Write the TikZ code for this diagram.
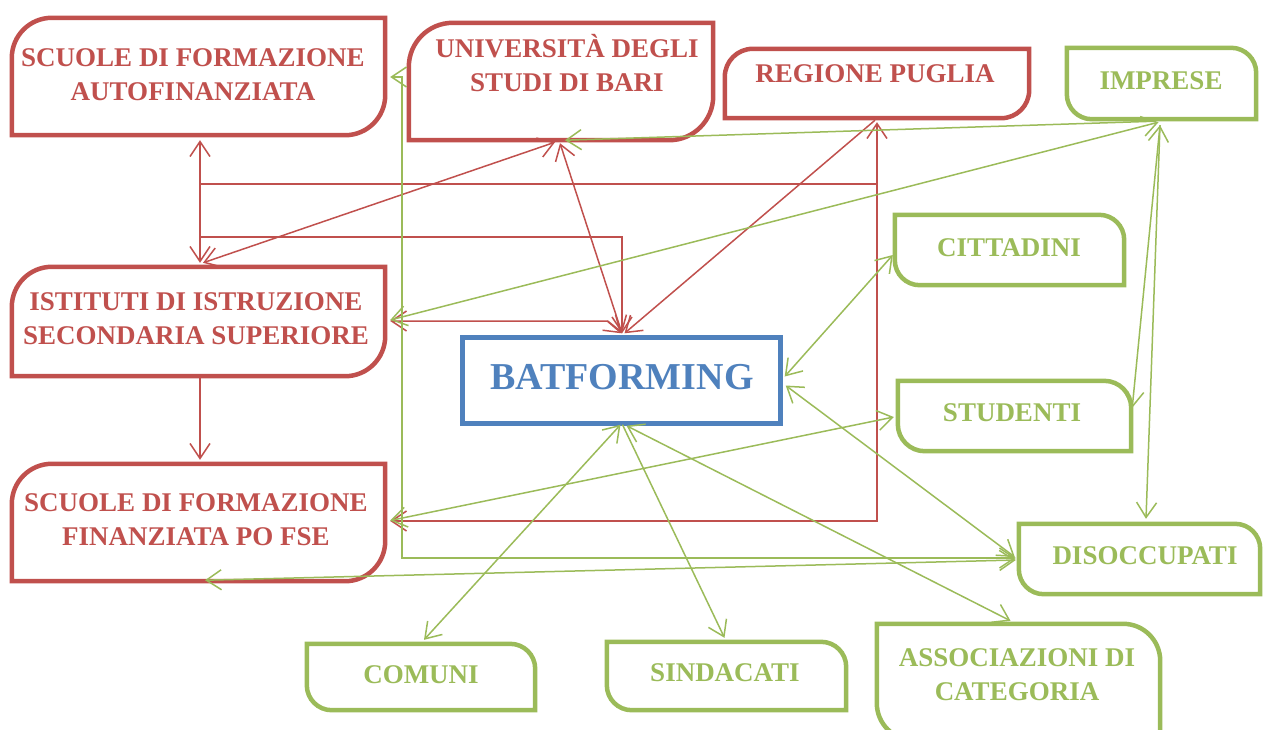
\documentclass[tikz,border=0pt]{standalone}
\usepackage{fontspec}
\setmainfont{Liberation Serif}
\usetikzlibrary{arrows.meta,calc,fit}
\definecolor{cred}{HTML}{C0504D}
\definecolor{cgreen}{HTML}{9BBB59}
\definecolor{cblue}{HTML}{4F81BD}
\newcommand\redframe[2]{\draw[redborder] ([yshift=-#2]#1.north west) arc[start angle=180,end angle=90,radius=#2] -- (#1.north east) -- ([yshift=#2]#1.south east) arc[start angle=0,end angle=-90,radius=#2] -- (#1.south west) -- cycle;}
\newcommand\greenframe[2]{\draw[greenborder] (#1.north west) -- ([xshift=-#2]#1.north east) arc[start angle=90,end angle=0,radius=#2] -- (#1.south east) -- ([xshift=#2]#1.south west) arc[start angle=270,end angle=180,radius=#2] -- cycle;}
\tikzset{
  area/.style={inner sep=0pt, draw=none},
  redborder/.style={draw=cred, line width=4.5pt, line join=miter, fill=white},
  greenborder/.style={draw=cgreen, line width=4.5pt, line join=miter, fill=white},
  blueborder/.style={draw=cblue, line width=5pt, line join=miter, fill=white},
  boxtext/.style={font=\fontsize{27}{34}\selectfont\bfseries, align=center, inner sep=0pt},
  rtext/.style={boxtext, text=cred},
  gtext/.style={boxtext, text=cgreen},
  rl/.style={draw=cred, line width=1.5pt},
  gl/.style={draw=cgreen, line width=1.5pt},
  arr/.style={-{Straight Barb[length=15pt,width=20pt]}},
  darr/.style={{Straight Barb[length=15pt,width=20pt]}-{Straight Barb[length=15pt,width=20pt]}},
}
\begin{document}
\begin{tikzpicture}[x=1pt,y=-1pt]
\useasboundingbox (0,0) rectangle (1263,729);
\clip (0,0) rectangle (1263,729);
% box areas
\node[area, fit={(12,18) (385,135)}] (af) {};
\node[area, fit={(409,23) (713,140)}] (un) {};
\node[area, fit={(725,49) (1029,118)}] (rp) {};
\node[area, fit={(1067,48) (1256,119)}] (im) {};
\node[area, fit={(895,215) (1124,285)}] (ci) {};
\node[area, fit={(12,267) (385,376)}] (is) {};
\node[area, fit={(12,464) (385,581)}] (fs) {};
\node[area, fit={(462.5,337.5) (780.5,423.5)}] (ba) {};
\node[area, fit={(898,381) (1131,451)}] (st) {};
\node[area, fit={(1019,524) (1260,594)}] (di) {};
\node[area, fit={(877,624) (1160,740)}] (as) {};
\node[area, fit={(307,644) (535,710)}] (co) {};
\node[area, fit={(607,642) (846,710)}] (si) {};
% frames
\redframe{af}{40pt}
\redframe{un}{44pt}
\redframe{rp}{28pt}
\redframe{is}{40pt}
\redframe{fs}{40pt}
\greenframe{im}{25pt}
\greenframe{ci}{25pt}
\greenframe{st}{27pt}
\greenframe{di}{25pt}
\greenframe{as}{37pt}
\greenframe{co}{25pt}
\greenframe{si}{25pt}
\draw[blueborder] (ba.north west) rectangle (ba.south east);
% texts
\node[rtext] (afT) at (193,75) {SCUOLE DI FORMAZIONE\\AUTOFINANZIATA};
\node[rtext] (unT) at (567,63) {UNIVERSITÀ DEGLI\\STUDI DI BARI};
\node[rtext] (rpT) at (875,74) {REGIONE PUGLIA};
\node[rtext] (isT) at (196,319) {ISTITUTI DI ISTRUZIONE\\SECONDARIA SUPERIORE};
\node[rtext] (fsT) at (196,520) {SCUOLE DI FORMAZIONE\\FINANZIATA PO FSE};
\node[gtext] (imT) at (1161,81) {IMPRESE};
\node[gtext] (ciT) at (1009,248) {CITTADINI};
\node[gtext] (stT) at (1012,413) {STUDENTI};
\node[gtext] (diT) at (1145,556) {DISOCCUPATI};
\node[gtext] (asT) at (1017,675) {ASSOCIAZIONI DI\\CATEGORIA};
\node[gtext] (coT) at (421,675) {COMUNI};
\node[gtext] (siT) at (725,673) {SINDACATI};
\node[font=\fontsize{38}{40}\selectfont\bfseries, text=cblue, inner sep=0pt] (baT) at (622,377) {BATFORMING};
% red connectors
\coordinate (j1) at (200,184);
\coordinate (j2) at (200,237);
\draw[rl,darr] ($(af.south)+(1.5,5)$) -- ($(is.north)+(1.5,-4)$);
\draw[rl,arr] (j1) -| ($(rp.south)+(0,4)$);
\draw[rl,arr] (j1 -| rp.south) |- ($(fs.east)+(5,-1.5)$);
\draw[rl,arr] (j2) -| ($(ba.north)+(0.5,-4)$);
\draw[rl,darr] ($(is.east)+(5,-0.5)$) -- ++(217,0) -- ($(ba.north)+(0,-4)$);
\draw[rl,darr] ($(is.north)+(4.5,-4)$) -- ($(un.south)+(-6,2)$);
\draw[rl,darr] ($(un.south)+(-1,3)$) -- ($(ba.north)+(0.5,-4)$);
\draw[rl,arr] ($(rp.south)+(-2,2)$) -- ($(ba.north)+(3,-4)$);
\draw[rl,arr] ($(is.south)+(1.5,2)$) -- ($(fs.north)+(1.5,-4)$);
% green connectors
\draw[gl,arr] ($(im.south)+(-6,2)$) -- ($(un.south)+(4,0)$);
\draw[gl,darr] ($(is.east)+(5,-1.5)$) -- ($(im.south)+(-3,3)$);
\draw[gl,darr] ($(im.south)+(-1.5,6)$) -- ($(st.north east)+(1,27)$);
\draw[gl,arr] ($(im.south)+(-1.5,6)$) -- ($(di.north)+(6.5,-5)$);
\draw[gl,darr] ($(af.east)+(5,0.5)$) -- ++(12,0) |- ($(di.west)+(-3,-1)$);
\draw[gl,darr] ($(fs.south)+(6.5,-1)$) -- ($(di.west)+(-3,1)$);
\draw[gl,darr] ($(fs.east)+(5,-2)$) -- ($(st.west)+(-4,1)$);
\draw[gl,darr] ($(ba.east)+(4,-4)$) -- ($(ci.west)+(-2,5)$);
\draw[gl,darr] ($(ba.east)+(5,5)$) -- ($(di.west)+(-4,-2)$);
\draw[gl,darr] ($(ba.south)+(-1,1)$) -- ($(co.north)+(3,-4)$);
\draw[gl,arr] ($(ba.south)+(1,1)$) -- ($(si.north)+(-2,-4)$);
\draw[gl,darr] ($(ba.south)+(5,2)$) -- ($(as.north)+(-8,-3)$);
\end{tikzpicture}
\end{document}
